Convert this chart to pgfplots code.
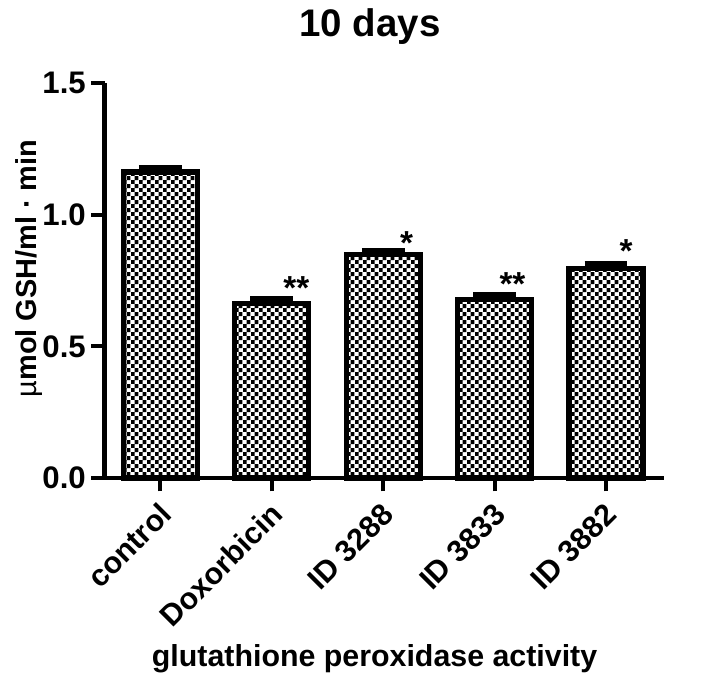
\documentclass[border=0pt]{standalone}
\usepackage{pgfplots}
\pgfplotsset{compat=1.18}
\usetikzlibrary{patterns}
\usepackage{fontspec}
\setmainfont{Liberation Sans}
\pgfdeclarepatternformonly{finecheck}{\pgfpointorigin}{\pgfqpoint{3.7pt}{3.8pt}}{\pgfqpoint{3.7pt}{3.8pt}}{%
  \pgfpathrectangle{\pgfpointorigin}{\pgfqpoint{1.85pt}{1.9pt}}%
  \pgfpathrectangle{\pgfqpoint{1.85pt}{1.9pt}}{\pgfqpoint{1.85pt}{1.9pt}}%
  \pgfusepath{fill}}
\begin{document}
\begin{tikzpicture}
\path (-50.3pt,-95.7pt) rectangle (291.7pt,229.9pt);
\begin{axis}[
  at={(0,0)}, anchor=south west,
  scale only axis, width=269.1pt, height=190pt,
  xmin=-0.5, xmax=4.52, ymin=0, ymax=1.5,
  clip=false,
  axis x line=bottom, axis y line=left,
  axis line style={line width=2pt, -},
  x axis line style={shorten <=-5pt},
  xtick={0,1,2,3,4},
  xticklabels={control,Doxorbicin,ID 3288,ID 3833,ID 3882},
  ytick={0,0.5,1,1.5},
  /pgf/number format/assume math mode=true,
  tick style={line width=2pt, black},
  major tick length=6.5pt, tick align=outside,
  yticklabel style={font=\bfseries\fontsize{15}{18}\selectfont, xshift=1pt,
    /pgf/number format/.cd, fixed, fixed zerofill, precision=1},
  xticklabel style={font=\bfseries\fontsize{14.6}{17}\selectfont, xshift=5pt, yshift=-6pt, rotate=45, anchor=east},
  xlabel={glutathione peroxidase activity},
  xlabel style={font=\bfseries\fontsize{14.6}{17}\selectfont, at={(axis description cs:0.4826,-0.42)}, anchor=north, inner sep=0pt},
  ylabel={{\mdseries µ}mol GSH/ml · min},
  ylabel style={font=\bfseries\fontsize{13.9}{16}\selectfont, at={(axis description cs:-0.16,0.53)}, anchor=north, inner sep=0pt},
  title={10 days},
  every axis title shift=0pt,
  title style={font=\bfseries\fontsize{18.5}{21}\selectfont, at={(axis description cs:0.4745,1.19)}, anchor=north, inner sep=0pt},
]
\addplot[ybar, bar width=35.6pt, draw=black, line width=2.5pt, pattern=finecheck,
  error bars/.cd, y dir=plus, y explicit,
  error bar style={line width=2.4pt, black},
  error mark options={rotate=90, line width=2.4pt, mark size=10.3pt, black}]
coordinates {
  (0,1.162) +- (0,0.017)
  (1,0.663) +- (0,0.017)
  (2,0.848) +- (0,0.017)
  (3,0.678) +- (0,0.017)
  (4,0.796) +- (0,0.017)
};
\node[font=\bfseries\fontsize{16}{19}\selectfont, anchor=base] at (axis cs:1.22,0.676) {**};
\node[font=\bfseries\fontsize{16}{19}\selectfont, anchor=base] at (axis cs:2.21,0.847) {*};
\node[font=\bfseries\fontsize{16}{19}\selectfont, anchor=base] at (axis cs:3.16,0.692) {**};
\node[font=\bfseries\fontsize{16}{19}\selectfont, anchor=base] at (axis cs:4.18,0.817) {*};
\end{axis}
\end{tikzpicture}
\end{document}
